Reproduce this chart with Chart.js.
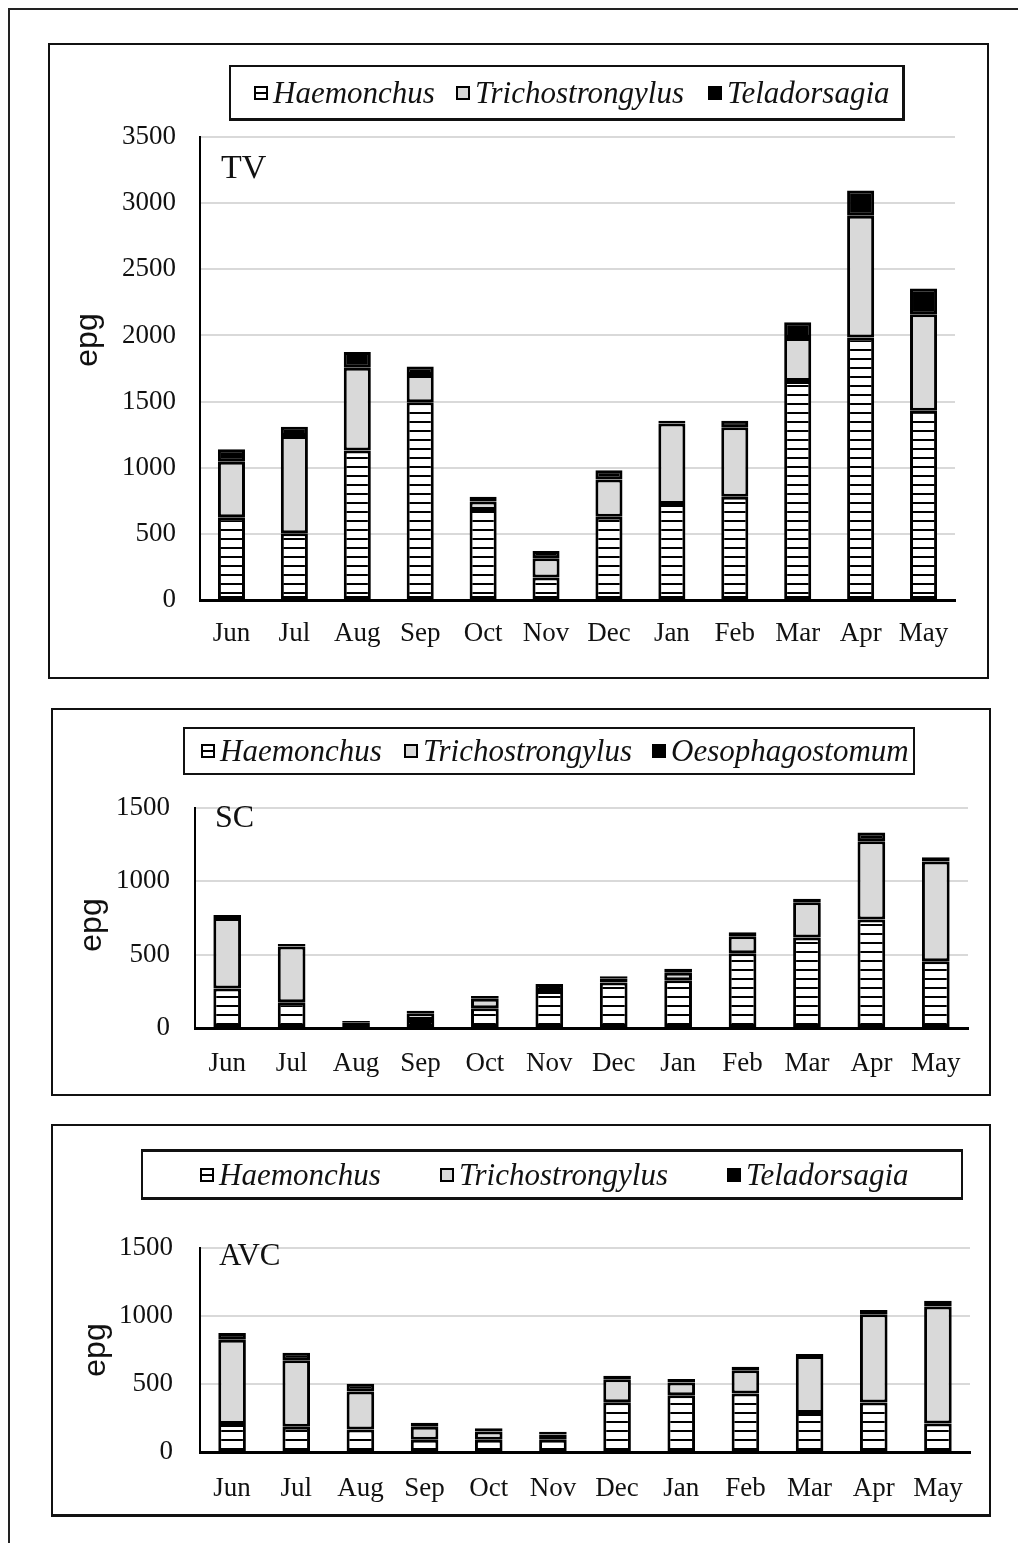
<!DOCTYPE html>
<html>
<head>
<meta charset="utf-8">
<script src="https://cdn.jsdelivr.net/npm/chart.js@4.4.1/dist/chart.umd.min.js"></script>
<style>
  body { margin: 0; background: #fff; width: 1018px; height: 1543px; position: relative; overflow: hidden; font-family: "Liberation Serif", serif; }
  .frame { position: absolute; left: 8px; top: 8px; width: 1100px; height: 1600px; border-left: 2px solid #222; border-top: 2px solid #222; }
  .box { position: absolute; border: 2px solid #111; box-sizing: border-box; }
  .box canvas { position: absolute; left: 0; top: 0; }
  .legend { position: absolute; border: 2px solid #111; box-sizing: border-box; }
  .item { position: absolute; height: 40px; display: flex; align-items: center; font-style: italic; font-size: 31px; color: #111; white-space: nowrap; }
  .sw { width: 14px; height: 14px; border: 2px solid #000; box-sizing: border-box; margin-right: 5px; }
  .sw.hatch { background: linear-gradient(#000, #000) center / 100% 2px no-repeat, #fff; }
  .sw.gray { background: #d9d9d9; }
  .sw.black { background: #000; }
</style>
</head>
<body>
<div class="frame"></div>

<div class="box" style="left:48px;top:43px;width:941px;height:636px"><canvas id="tv" width="937" height="632"></canvas></div>
<div class="box" style="left:51px;top:708px;width:940px;height:388px"><canvas id="sc" width="936" height="384"></canvas></div>
<div class="box" style="left:51px;top:1124px;width:940px;height:393px;border-width:2px 2px 3px 2px"><canvas id="avc" width="936" height="389"></canvas></div>

<div class="legend" style="left:229px;top:65px;width:676px;height:56px;border-width:2px 3px 3px 2px"></div>
<div class="legend" style="left:183px;top:727px;width:732px;height:48px"></div>
<div class="legend" style="left:141px;top:1149px;width:822px;height:51px;border-width:3px 2px 3px 2px"></div>

<script>
// categories
const months = ['Jun', 'Jul', 'Aug', 'Sep', 'Oct', 'Nov', 'Dec', 'Jan', 'Feb', 'Mar', 'Apr', 'May'];

// TV (epg)
const tvNames = ['Haemonchus', 'Trichostrongylus', 'Teladorsagia'];
const tvHaemonchus = [625, 505, 1130, 1495, 680, 170, 630, 725, 780, 1655, 1985, 1430];
const tvTricho = [420, 735, 625, 205, 65, 145, 280, 610, 525, 325, 920, 730];
const tvTela = [95, 70, 120, 65, 35, 55, 70, 20, 50, 120, 190, 195];

// SC (epg)
const scNames = ['Haemonchus', 'Trichostrongylus', 'Oesophagostomum'];
const scHaemonchus = [270, 175, 5, 55, 135, 253, 310, 325, 510, 617, 740, 455];
const scTricho = [480, 380, 30, 45, 65, 0, 25, 52, 115, 240, 533, 680];
const scOeso = [20, 18, 12, 18, 18, 47, 18, 27, 27, 25, 60, 30];

// AVC (epg)
const avcNames = ['Haemonchus', 'Trichostrongylus', 'Teladorsagia'];
const avcHaemonchus = [205, 185, 165, 90, 90, 90, 365, 418, 430, 287, 364, 209];
const avcTricho = [620, 490, 280, 95, 60, 38, 170, 93, 172, 418, 648, 860];
const avcTela = [50, 55, 57, 30, 25, 20, 25, 25, 25, 15, 32, 44];

// y axis ticks
const tvMax = 3500, scMax = 1500, avcMax = 1500, yStep = 500;

// striped fill for Haemonchus
function makeHatch() {
    const c = document.createElement('canvas');
    c.width = 8; c.height = 9;
    const g = c.getContext('2d');
    g.fillStyle = '#fff';
    g.fillRect(0, 0, 8, 9);
    g.fillStyle = '#000';
    g.fillRect(0, 7, 8, 2);
    return g.createPattern(c, 'repeat');
}
const hatch = makeHatch();

// site tag and y title
const sideText = {
    id: 'sideText',
    afterDatasetsDraw(chart, args, o) {
        const { ctx, chartArea } = chart;
        ctx.save();
        ctx.fillStyle = '#111';
        ctx.font = o.tagSize + 'px "Liberation Serif"';
        ctx.textBaseline = 'alphabetic';
        ctx.fillText(o.tag, chartArea.left + o.tagX, chartArea.top + o.tagY);
        ctx.font = '32px "Liberation Sans"';
        ctx.translate(o.epgX, o.epgY);
        ctx.rotate(-Math.PI / 2);
        ctx.textAlign = 'center';
        ctx.textBaseline = 'middle';
        ctx.fillText('epg', 0, 0);
        ctx.restore();
    }
};

function drawPanel(id, series, s) {
    const fills = [hatch, '#d9d9d9', '#000'];
    new Chart(document.getElementById(id), {
        type: 'bar',
        data: {
            labels: months,
            datasets: series.map((d, i) => ({
                data: d,
                backgroundColor: fills[i],
                borderColor: '#000',
                borderWidth: 3,
                borderSkipped: false,
                categoryPercentage: 1,
                barPercentage: 0.43
            }))
        },
        options: {
            responsive: false,
            animation: false,
            layout: { padding: { left: 0, right: s.padRight, top: s.padTop, bottom: 0 } },
            plugins: {
                legend: { display: false },
                tooltip: { enabled: false },
                sideText: s.text
            },
            scales: {
                x: {
                    stacked: true,
                    grid: { display: false, drawTicks: false },
                    border: { color: '#000', width: 3 },
                    ticks: { color: '#111', padding: s.xPad, font: { family: 'Liberation Serif', size: 27 } },
                    afterFit: (sc) => { sc.height = s.xHeight; }
                },
                y: {
                    stacked: true,
                    min: 0,
                    max: s.max,
                    ticks: {
                        stepSize: yStep, color: '#111', padding: s.yPad,
                        font: { family: 'Liberation Serif', size: 27 },
                        callback: (v) => String(v)
                    },
                    grid: { color: '#d9d9d9', lineWidth: 2, drawTicks: false },
                    border: { color: '#000', width: 2 },
                    afterFit: (sc) => { sc.width = s.yWidth; }
                }
            }
        },
        plugins: [sideText]
    });
}

drawPanel('tv', [tvHaemonchus, tvTricho, tvTela], {
    max: tvMax, padRight: 32, padTop: 92, yWidth: 150, xHeight: 77, xPad: 18, yPad: 24,
    text: { tag: 'TV', tagSize: 34, tagX: 21, tagY: 41, epgX: 38, epgY: 295 }
});
drawPanel('sc', [scHaemonchus, scTricho, scOeso], {
    max: scMax, padRight: 21, padTop: 98, yWidth: 142, xHeight: 66, xPad: 20, yPad: 25,
    text: { tag: 'SC', tagSize: 32, tagX: 20, tagY: 19, epgX: 39, epgY: 215 }
});
drawPanel('avc', [avcHaemonchus, avcTricho, avcTela], {
    max: avcMax, padRight: 19, padTop: 122, yWidth: 147, xHeight: 63, xPad: 21, yPad: 27,
    text: { tag: 'AVC', tagSize: 31, tagX: 19, tagY: 17, epgX: 43, epgY: 224 }
});

// legends (page positions of each swatch)
function addLegend(names, lefts, centerY) {
    const kinds = ['hatch', 'gray', 'black'];
    names.forEach((n, i) => {
        const el = document.createElement('div');
        el.className = 'item';
        el.style.left = lefts[i] + 'px';
        el.style.top = (centerY - 20) + 'px';
        el.innerHTML = '<span class="sw ' + kinds[i] + '"></span>' + n;
        document.body.appendChild(el);
    });
}
addLegend(tvNames, [254, 456, 708], 93);
addLegend(scNames, [201, 404, 652], 751);
addLegend(avcNames, [200, 440, 727], 1175);
</script>
</body>
</html>
